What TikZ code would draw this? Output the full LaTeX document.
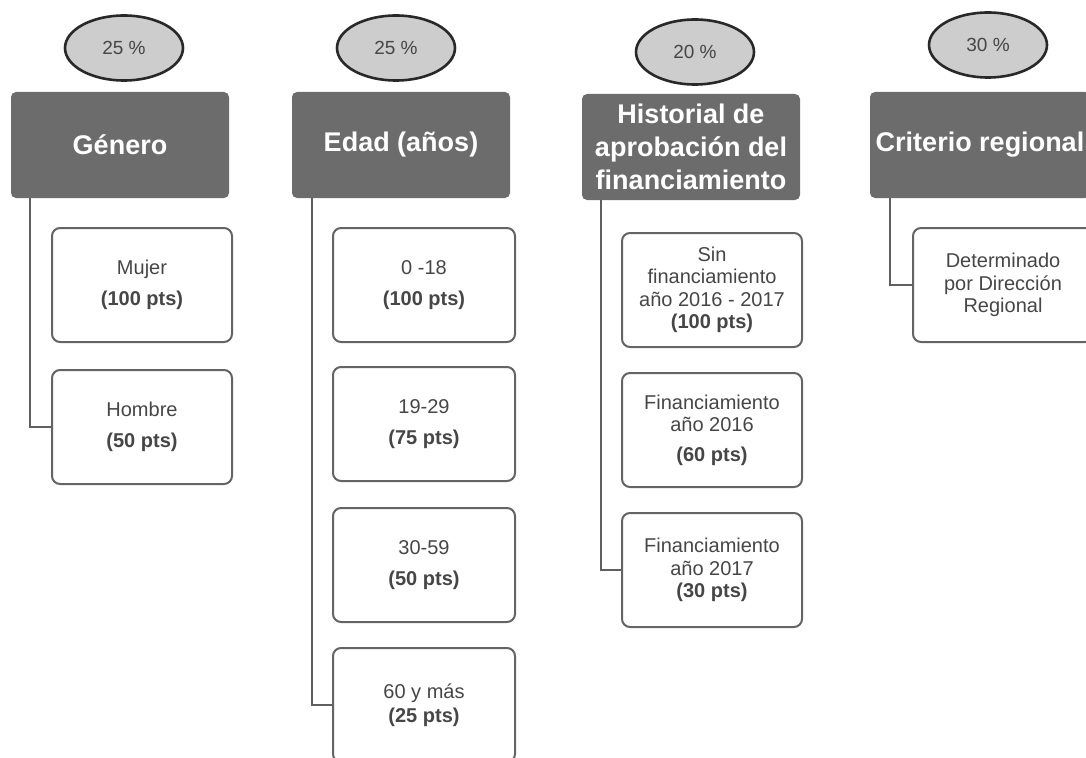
\documentclass[tikz,border=0pt]{standalone}
\usepackage{fontspec}
\setmainfont{Liberation Sans}
\usepackage{tikz}
\usetikzlibrary{shapes.geometric}

\definecolor{headfill}{RGB}{108,108,108}
\definecolor{ovalfill}{RGB}{205,205,205}
\definecolor{ovalline}{RGB}{40,40,40}
\definecolor{boxline}{RGB}{100,100,100}
\definecolor{linegray}{RGB}{95,95,95}
\definecolor{txtgray}{RGB}{70,70,70}

\begin{document}
\begin{tikzpicture}[x=1pt,y=-1pt,
  pct/.style={ellipse,draw=ovalline,fill=ovalfill,line width=2.6pt,minimum width=118pt,minimum height=65pt,inner sep=0pt,text=txtgray,font=\fontsize{19}{22}\selectfont},
  head/.style={rectangle,rounded corners=5pt,fill=headfill,text=white,minimum width=218pt,minimum height=106pt,align=center,font=\fontsize{27}{33}\selectfont\bfseries},
  item/.style={rectangle,rounded corners=8pt,draw=boxline,fill=white,line width=2pt,minimum width=180pt,minimum height=114pt,align=center,text=txtgray,font=\fontsize{20}{22.5}\selectfont},
  link/.style={draw=linegray,line width=2.4pt}]
\useasboundingbox (0,0) rectangle (1086,757);
\clip (0,0) rectangle (1086,757);

% Genero
\node [pct] (p1) at (124,48) {25 \%};
\node [head] (genero) at (120,145) {Género};
\node [item] (mujer) at (142,285) {Mujer\\[9pt]\textbf{(100 pts)}};
\node [item] (hombre) at (142,427) {Hombre\\[9pt]\textbf{(50 pts)}};
\draw [link] ([xshift=19pt]genero.south west) |- (hombre.west);

% Edad
\node [pct] (p2) at (396,48) {25 \%};
\node [head] (edad) at (401,145) {Edad (años)};
\node [item,minimum width=182pt] (e1) at (424,285) {0 -18\\[9pt]\textbf{(100 pts)}};
\node [item,minimum width=182pt] (e2) at (424,424) {19-29\\[9pt]\textbf{(75 pts)}};
\node [item,minimum width=182pt] (e3) at (424,565) {30-59\\[9pt]\textbf{(50 pts)}};
\node [item,minimum width=182pt] (e4) at (424,705) {60 y más\\[2pt]\textbf{(25 pts)}};
\draw [link] ([xshift=20pt]edad.south west) |- (e4.west);

% Historial
\node [pct] (p3) at (695,52) {20 \%};
\node [head] (hist) at (691,147) {Historial de\\aprobación del\\financiamiento};
\node [item] (h1) at (712,290) {Sin\\financiamiento\\año 2016 - 2017\\\textbf{(100 pts)}};
\node [item] (h2) at (712,430) {Financiamiento\\año 2016\\[7pt]\textbf{(60 pts)}};
\node [item] (h3) at (712,570) {Financiamiento\\año 2017\\\textbf{(30 pts)}};
\draw [link] ([xshift=19pt]hist.south west) |- (h3.west);

% Criterio regional
\node [pct] (p4) at (988,45) {30 \%};
\node [head,minimum width=220pt] (region) at (980,145) {Criterio regional};
\node [item] (r1) at (1003,285) {Determinado\\por Dirección\\Regional};
\draw [link] ([xshift=20pt]region.south west) |- (r1.west);
\end{tikzpicture}
\end{document}
